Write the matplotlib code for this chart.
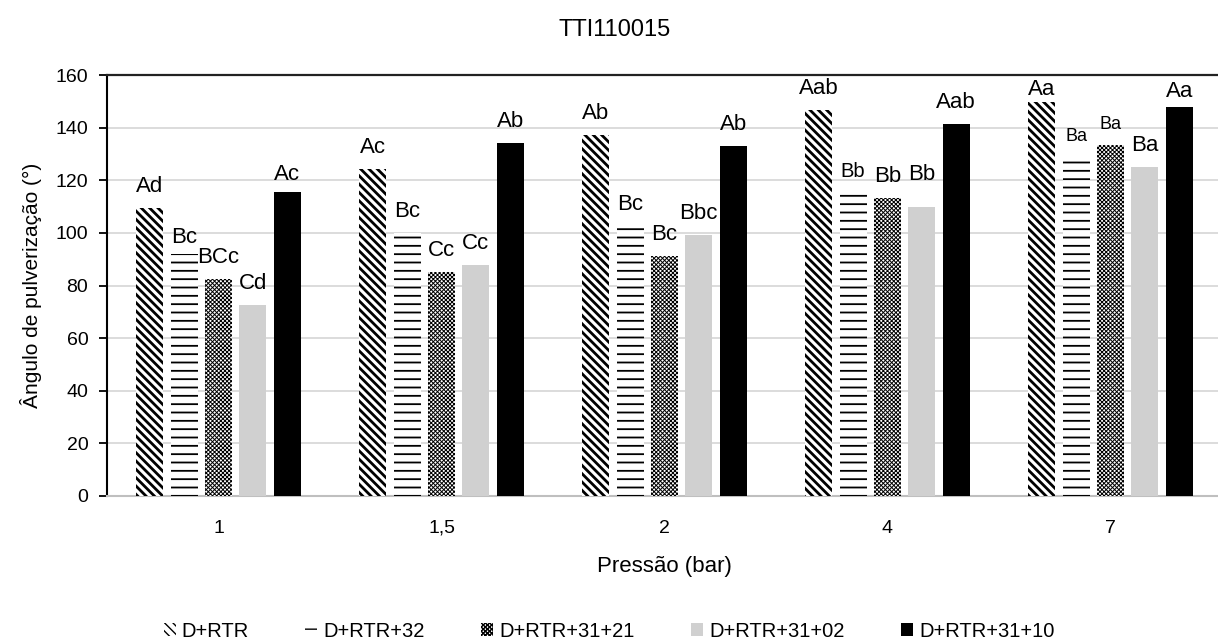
import matplotlib
matplotlib.use('Agg')
import matplotlib.pyplot as plt
import numpy as np

plt.rcParams['font.family'] = ['Liberation Sans', 'DejaVu Sans']

# dados
pressoes = ['1', '1,5', '2', '4', '7']
series = ['D+RTR', 'D+RTR+32', 'D+RTR+31+21', 'D+RTR+31+02', 'D+RTR+31+10']

d_rtr = [109.4, 124.2, 137.3, 146.8, 149.7]
d_rtr_32 = [92.0, 100.0, 102.8, 115.3, 128.8]
d_rtr_31_21 = [82.4, 85.0, 91.3, 113.2, 133.5]
d_rtr_31_02 = [72.5, 87.8, 99.2, 109.9, 125.0]
d_rtr_31_10 = [115.5, 134.0, 133.2, 141.3, 147.9]

letras_d_rtr = ['Ad', 'Ac', 'Ab', 'Aab', 'Aa']
letras_32 = ['Bc', 'Bc', 'Bc', 'Bb', 'Ba']
letras_31_21 = ['BCc', 'Cc', 'Bc', 'Bb', 'Ba']
letras_31_02 = ['Cd', 'Cc', 'Bbc', 'Bb', 'Ba']
letras_31_10 = ['Ac', 'Ab', 'Ab', 'Aab', 'Aa']

valores = [d_rtr, d_rtr_32, d_rtr_31_21, d_rtr_31_02, d_rtr_31_10]
letras = [letras_d_rtr, letras_32, letras_31_21, letras_31_02, letras_31_10]

barra_inv = chr(92)  # barra invertida para a hachura diagonal

# estilo de cada série: (cor, hachura, espessura da hachura)
estilos = [
    ('white', barra_inv * 4, 2.0),
    ('white', '--', 1.3),
    ('white', 'x' * 8, 0.7),
    ('#d0d0d0', None, 1.0),
    ('black', None, 1.0),
]

# deslocamentos especiais dos rótulos (px), chave (série, grupo)
desloc = {(1, 0): 11, (4, 0): 12, (3, 3): 27, (0, 4): 7, (4, 4): 10}
menores = {(1, 4): 13, (2, 4): 13, (1, 3): 14.5}

fig = plt.figure(figsize=(12.18, 6.43), dpi=100)
ax = fig.add_axes([107 / 1218, 1 - 496 / 643, 1115 / 1218, 421 / 643])

x = np.arange(len(pressoes))
largura = 0.121
passo = 0.154

for i, (vals, nome) in enumerate(zip(valores, series)):
    cor, hatch, hlw = estilos[i]
    pos = x + (i - 2) * passo
    with plt.rc_context({'hatch.linewidth': hlw, 'hatch.color': 'black'}):
        barras = ax.bar(pos, vals, largura, color=cor, hatch=hatch,
                        edgecolor='black' if hatch else cor, linewidth=0,
                        label=nome, zorder=3)
        for b in barras:
            if hasattr(b, 'set_hatch_linewidth'):
                b.set_hatch_linewidth(hlw)
    for j, (p, v) in enumerate(zip(pos, vals)):
        off = desloc.get((i, j), 16) * 0.72
        tam = menores.get((i, j), 16)
        ax.annotate(letras[i][j], (p, v), xytext=(0, off), textcoords='offset points',
                    ha='center', va='baseline', fontsize=tam, clip_on=False, zorder=4)

ax.set_xlim(-0.5, 4.5)
ax.set_ylim(0, 160)
ax.set_yticks(np.arange(0, 161, 20))
ax.set_xticks(x)
ax.set_xticklabels(pressoes)
ax.tick_params(axis='y', length=5.5, width=1.3, pad=8, labelsize=14)
ax.tick_params(axis='x', length=0, pad=17, labelsize=14)
ax.yaxis.grid(True, color='#d9d9d9', linewidth=1.3, zorder=0)
ax.set_axisbelow(True)

ax.spines['left'].set_linewidth(1.5)
ax.spines['left'].set_color('black')
ax.spines['top'].set_linewidth(1.6)
ax.spines['top'].set_color('#222222')
ax.spines['bottom'].set_color('#bfbfbf')
ax.spines['bottom'].set_linewidth(1.5)
ax.spines['right'].set_visible(False)

ax.set_ylabel('Ângulo de pulverização (°)', fontsize=15, labelpad=10)
ax.set_xlabel('Pressão (bar)', fontsize=16, labelpad=14)

fig.text(0.505, 1 - 30 / 643, 'TTI110015', ha='center', va='center', fontsize=17)

fig.legend(loc='center', bbox_to_anchor=(0.5, 0.018), ncol=5, frameon=False,
           fontsize=14.5, handlelength=0.6, handleheight=0.6, handletextpad=0.3,
           columnspacing=2.8, borderpad=0)

fig.savefig('out.png', dpi=100)
